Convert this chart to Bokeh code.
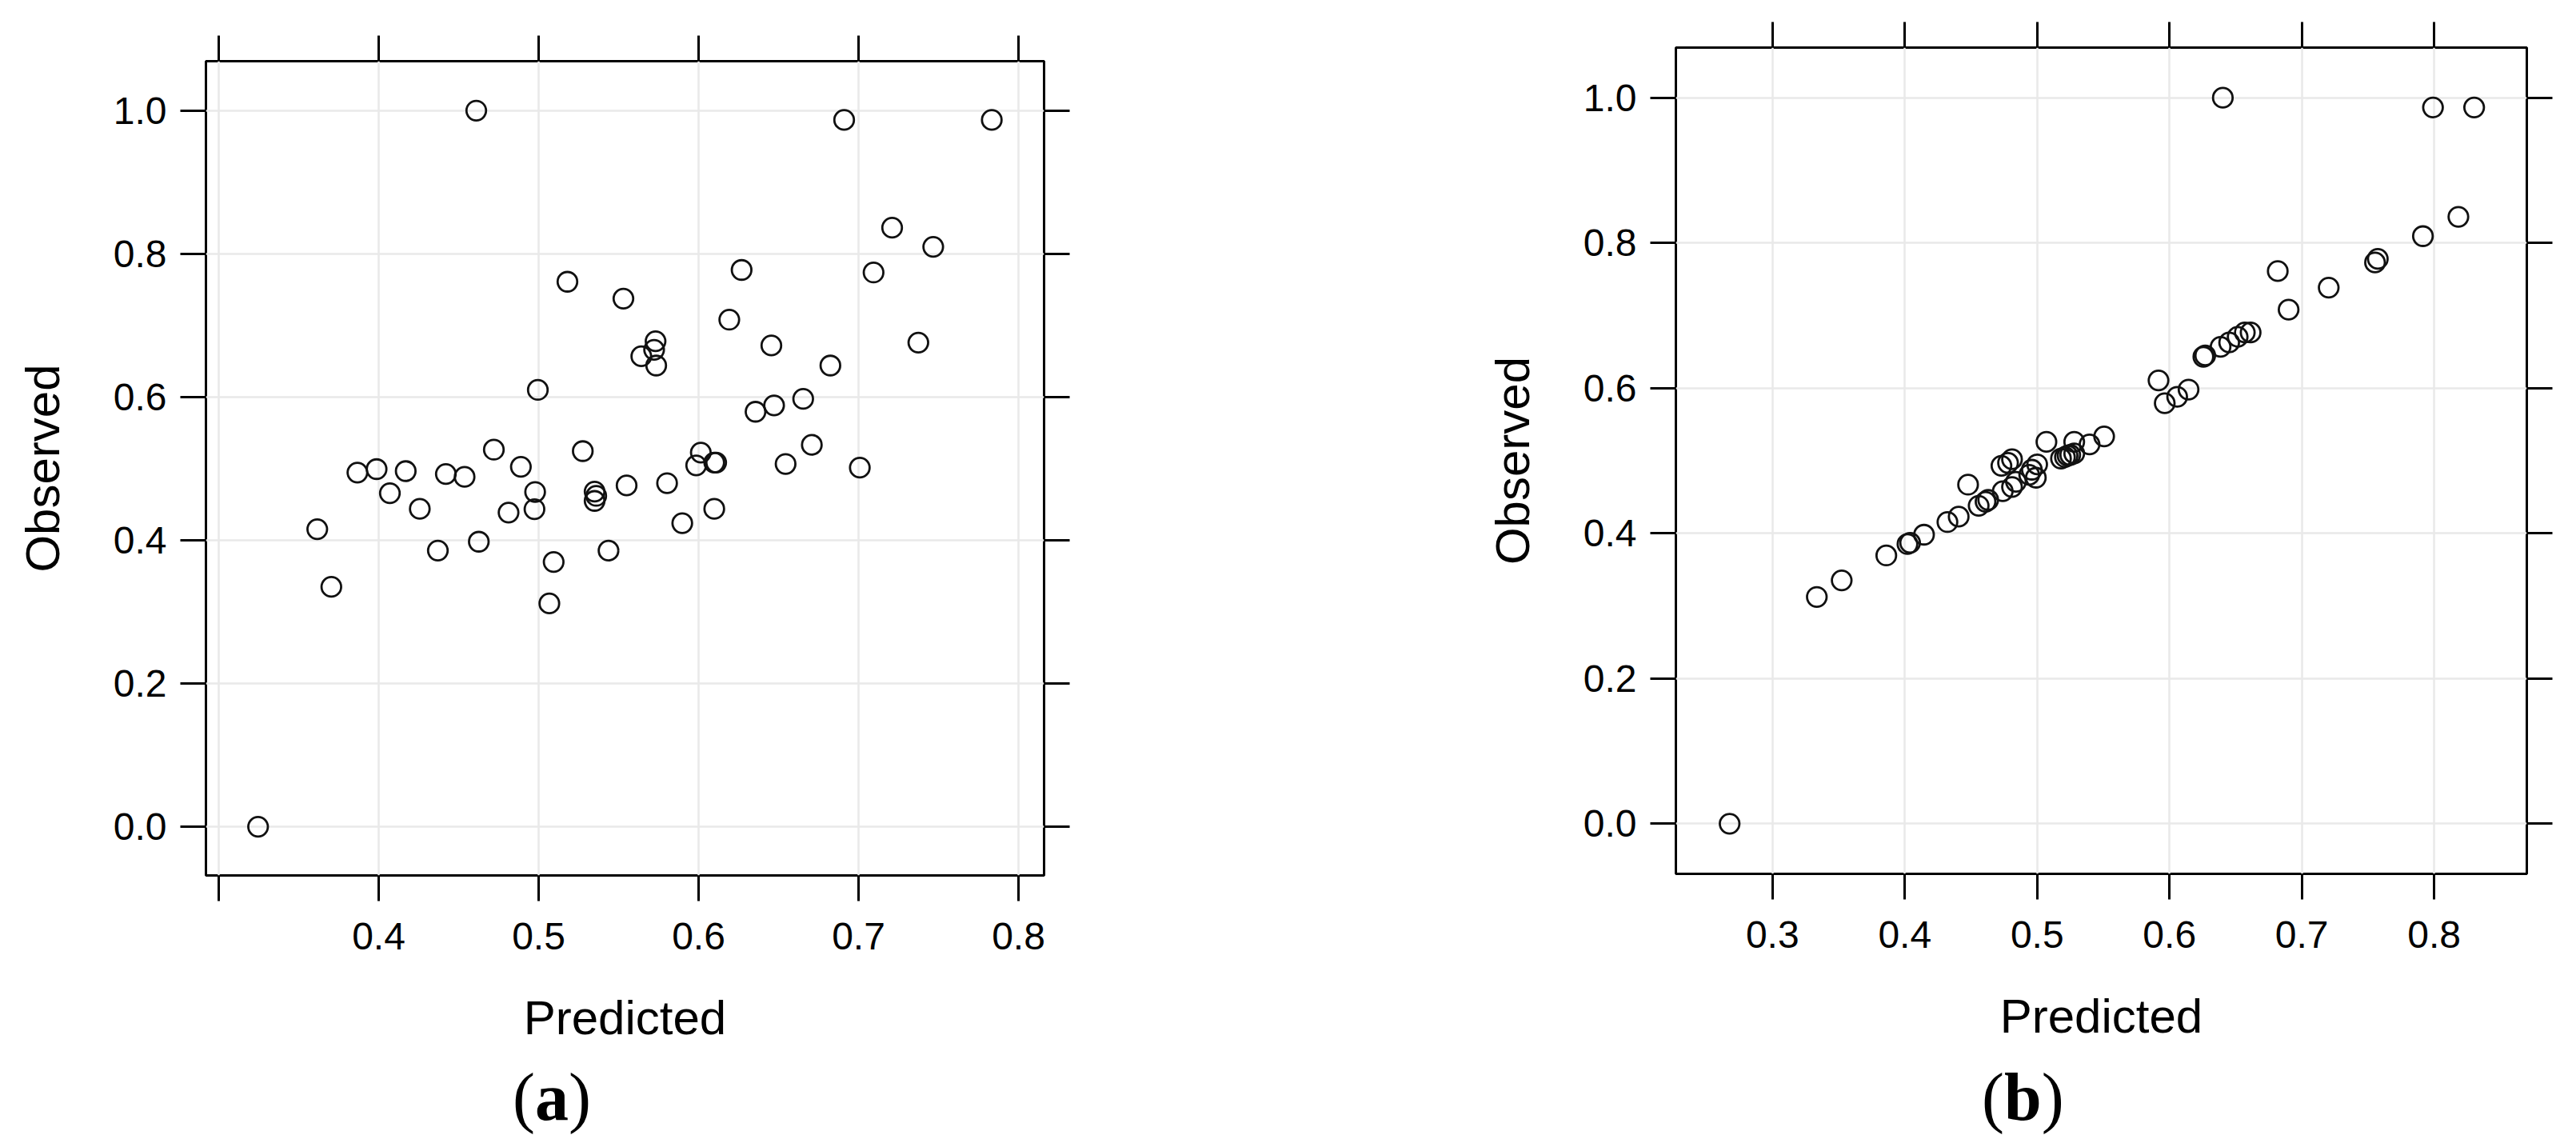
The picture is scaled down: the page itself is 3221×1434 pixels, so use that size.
from bokeh.plotting import figure
from bokeh.layouts import row, column
from bokeh.models import Range1d, FixedTicker, LinearAxis, Grid, Div
from bokeh.embed import file_html
from bokeh.resources import INLINE

# ---------------- data ----------------
pred_a = [0.461, 0.518, 0.553, 0.4995, 0.472, 0.5276, 0.3867, 0.3987, 0.4169, 0.442,
          0.4537, 0.4889, 0.407, 0.4257, 0.3616, 0.3704, 0.437, 0.4626, 0.4812, 0.4978,
          0.4974, 0.5094, 0.5067, 0.535, 0.536, 0.535, 0.555, 0.5437, 0.3246, 0.691,
          0.7833, 0.721, 0.7467, 0.6269, 0.7094, 0.6192, 0.5731, 0.5722, 0.5642, 0.5735,
          0.6455, 0.7374, 0.6824, 0.6654, 0.6472, 0.6356, 0.6708, 0.6014, 0.5985, 0.6098,
          0.6110, 0.6544, 0.7008, 0.5803, 0.6098, 0.5898]
obs_a = [1.0, 0.761, 0.7375, 0.610, 0.5265, 0.5245, 0.4945, 0.4994, 0.4966, 0.4926,
         0.4886, 0.5026, 0.4658, 0.4439, 0.4155, 0.335, 0.3856, 0.398, 0.4387, 0.4675,
         0.4435, 0.3697, 0.3118, 0.468, 0.462, 0.455, 0.4766, 0.3856, 0.0, 0.987,
         0.987, 0.8365, 0.8098, 0.7775, 0.7739, 0.708, 0.678, 0.666, 0.657, 0.644,
         0.672, 0.676, 0.644, 0.5975, 0.5884, 0.5795, 0.5333, 0.5225, 0.5046, 0.5085,
         0.5085, 0.5066, 0.5014, 0.4798, 0.4439, 0.4239]

pred_b = [0.2676, 0.3335, 0.3523, 0.386, 0.402, 0.404, 0.4145, 0.4322, 0.4407, 0.4478,
          0.4558, 0.461, 0.463, 0.474, 0.473, 0.478, 0.481, 0.481, 0.484, 0.494,
          0.496, 0.500, 0.499, 0.507, 0.518, 0.521, 0.523, 0.525, 0.528, 0.528,
          0.5396, 0.5506, 0.5917, 0.5964, 0.6058, 0.6144, 0.6256, 0.627, 0.6386, 0.6451,
          0.6515, 0.6569, 0.6613, 0.6403, 0.6818, 0.690, 0.7203, 0.7553, 0.7574, 0.7915,
          0.8183, 0.7991, 0.8302]
obs_b = [0.0, 0.3124, 0.3352, 0.3695, 0.3852, 0.387, 0.3981, 0.4155, 0.423, 0.467,
         0.438, 0.4435, 0.446, 0.458, 0.493, 0.497, 0.502, 0.4638, 0.471, 0.4806,
         0.4876, 0.495, 0.4766, 0.526, 0.503, 0.505, 0.507, 0.508, 0.510, 0.526,
         0.5225, 0.5335, 0.6106, 0.5791, 0.5881, 0.598, 0.6432, 0.645, 0.6569, 0.6629,
         0.6707, 0.6766, 0.6766, 1.0, 0.7612, 0.7081, 0.7384, 0.773, 0.778, 0.8093,
         0.8359, 0.9866, 0.9866]

x_ticks = [0.3, 0.4, 0.5, 0.6, 0.7, 0.8]
y_ticks = [0.0, 0.2, 0.4, 0.6, 0.8, 1.0]
x_labels_a = ["", "0.4", "0.5", "0.6", "0.7", "0.8"]
x_labels_b = ["0.3", "0.4", "0.5", "0.6", "0.7", "0.8"]
y_labels = ["0.0", "0.2", "0.4", "0.6", "0.8", "1.0"]
x_title = "Predicted"
y_title = "Observed"
panel_letters = ["a", "b"]

SANS = "Liberation Sans"
SERIF = "Liberation Serif"


def make_panel(pred, obs, x_rng, y_rng, x_labels, frame_w, frame_h, borders):
    bl, br, bt, bb = borders
    p = figure(frame_width=frame_w, frame_height=frame_h,
               x_range=Range1d(*x_rng), y_range=Range1d(*y_rng),
               x_axis_location=None, y_axis_location=None,
               min_border_left=bl, min_border_right=br,
               min_border_top=bt, min_border_bottom=bb,
               output_backend="svg", toolbar_location=None,
               background_fill_color="white", border_fill_color="white")
    p.outline_line_color = "black"
    p.outline_line_width = 3

    p.add_layout(Grid(dimension=0, ticker=FixedTicker(ticks=x_ticks),
                      grid_line_color="#e9e9e9", grid_line_width=2.5), "center")
    p.add_layout(Grid(dimension=1, ticker=FixedTicker(ticks=y_ticks),
                      grid_line_color="#e9e9e9", grid_line_width=2.5), "center")

    specs = {
        "below": (x_ticks, dict(zip(x_ticks, x_labels)), True),
        "left": (y_ticks, dict(zip(y_ticks, y_labels)), True),
        "above": (x_ticks, {t: "" for t in x_ticks}, False),
        "right": (y_ticks, {t: "" for t in y_ticks}, False),
    }
    for loc, (ticks, overrides, labelled) in specs.items():
        ax = LinearAxis(ticker=FixedTicker(ticks=ticks), major_label_overrides=overrides)
        ax.axis_line_color = None
        ax.major_tick_in = 0
        ax.major_tick_out = 32
        ax.major_tick_line_width = 3
        ax.major_tick_line_color = "black"
        ax.minor_tick_line_color = None
        ax.major_label_text_font = SANS
        ax.major_label_text_color = "black"
        if labelled:
            ax.major_label_text_font_size = "48px"
            ax.axis_label = x_title if loc == "below" else y_title
            ax.axis_label_text_font = SANS
            ax.axis_label_text_font_size = "60px"
            ax.axis_label_text_font_style = "normal"
            ax.axis_label_text_color = "black"
            if loc == "below":
                ax.major_label_standoff = 27
                ax.axis_label_standoff = 49
            else:
                ax.major_label_standoff = 17
                ax.axis_label_standoff = 52
        else:
            ax.major_label_text_font_size = "1px"
            ax.major_label_standoff = 0
        p.add_layout(ax, loc)

    p.scatter(pred, obs, marker="circle", size=24.5, fill_color=None,
              line_color="#111111", line_width=2.8)
    return p


def make_letter(letter, width, pad_left):
    return Div(text=f"({'<b>' + letter + '</b>'})", width=width, height=110,
               styles={"font-family": SERIF, "font-size": "84px", "line-height": "84px",
                       "padding-left": f"{pad_left}px", "padding-top": "10px",
                       "color": "black", "margin": "0", "box-sizing": "border-box"})


W_A = 1660
W_B = 1559
pa = make_panel(pred_a, obs_a, (0.292, 0.816), (-0.068, 1.069), x_labels_a,
                1048, 1018, (257, W_A - 257 - 1048, 76, 1320 - 76 - 1018))
pb = make_panel(pred_b, obs_b, (0.227, 0.870), (-0.069, 1.069), x_labels_b,
                1064, 1033, (435, W_B - 435 - 1064, 59, 1320 - 59 - 1033))

da = make_letter(panel_letters[0], W_A, 641)
db = make_letter(panel_letters[1], W_B, 2478 - W_A)

layout = column(row(column(pa), column(pb)), row(da, db))
open("out.html", "w").write(file_html(layout, INLINE, title="Observed vs Predicted"))
